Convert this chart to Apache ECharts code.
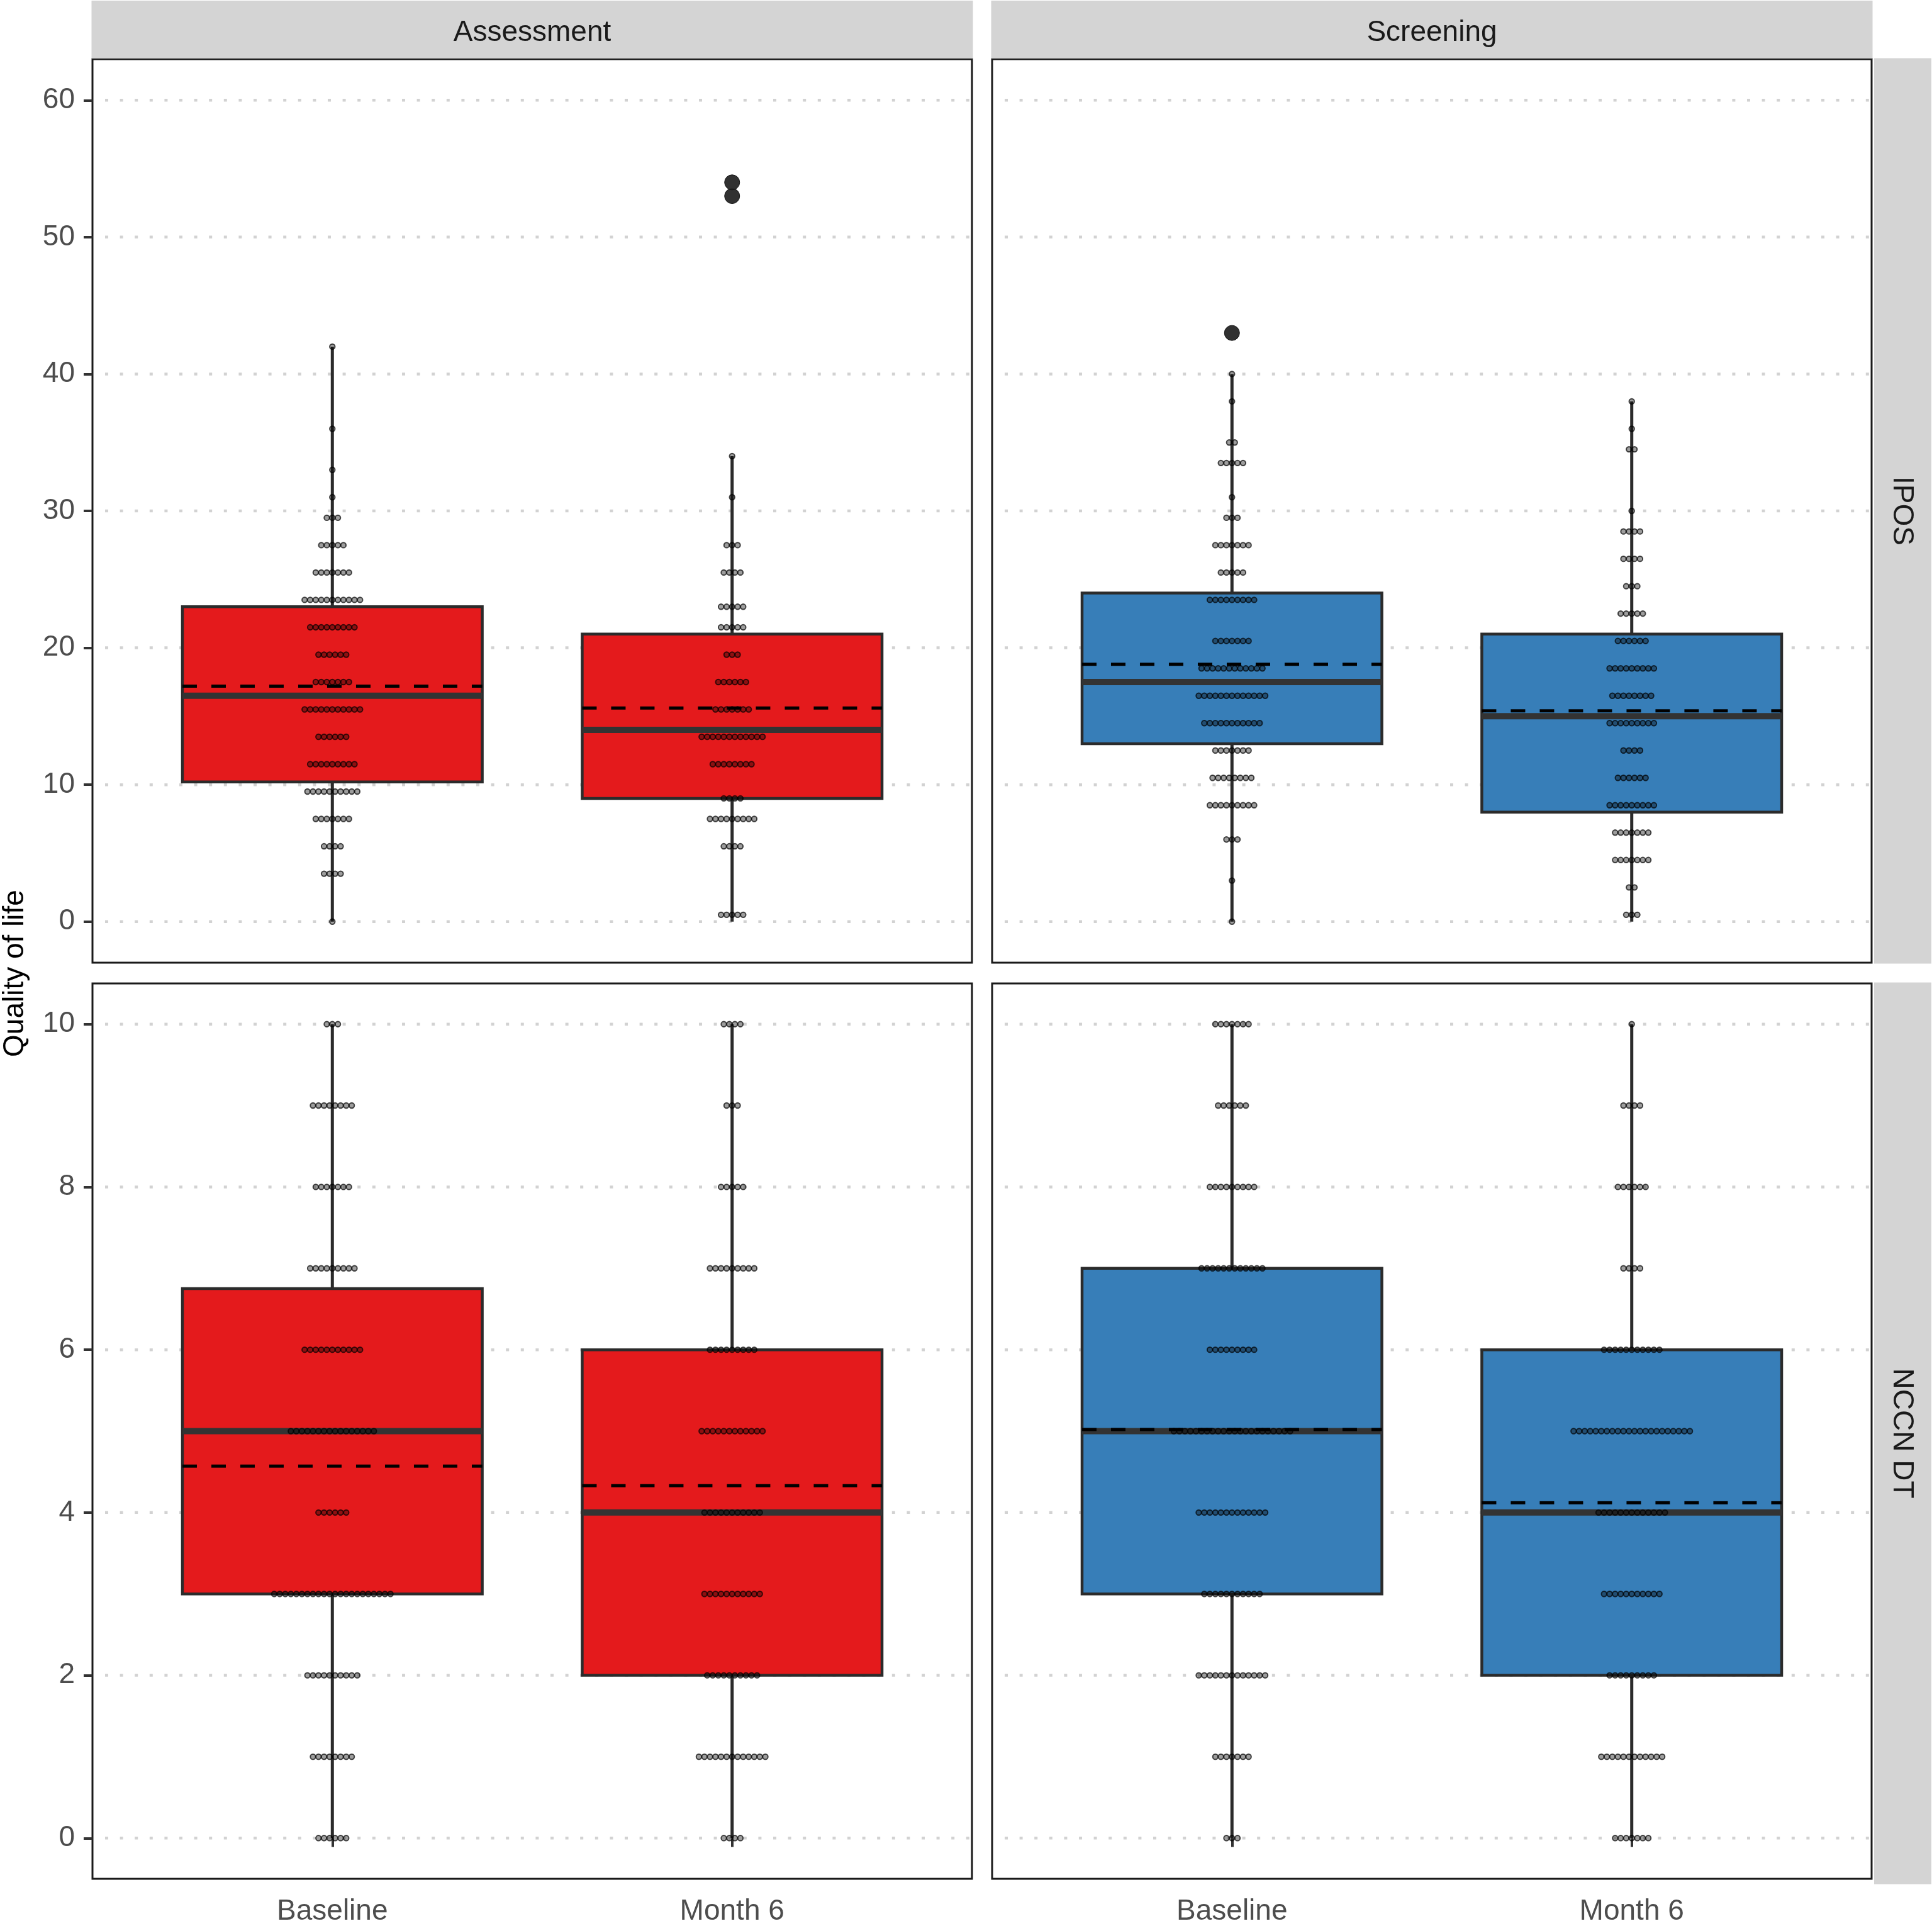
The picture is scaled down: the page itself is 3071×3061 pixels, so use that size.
<!DOCTYPE html>
<html>
<head>
<meta charset="utf-8">
<script src="https://cdn.jsdelivr.net/npm/echarts@6/dist/echarts.min.js"></script>
<style>
html, body { margin: 0; padding: 0; background: #fff; }
#chart { width: 3071px; height: 3061px; }
</style>
</head>
<body>
<div id="chart"></div>
<script>
'use strict';

var facets = ['Assessment', 'Screening'];
var measures = ['IPOS', 'NCCN DT'];
var timepoints = ['Baseline', 'Month 6'];
var yTitle = 'Quality of life';

// tick labels
var iposTicks = [0, 10, 20, 30, 40, 50, 60];
var nccnTicks = [0, 2, 4, 6, 8, 10];

// box stats: [lower whisker, Q1, median, Q3, upper whisker], Baseline then Month 6
var iposAssessBox = [[0, 10.2, 16.5, 23, 42], [0, 9, 14, 21, 34]];
var iposScreenBox = [[0, 13, 17.5, 24, 40], [0, 8, 15, 21, 38]];
var nccnAssessBox = [[0, 3, 5, 6.75, 10], [0, 2, 4, 6, 10]];
var nccnScreenBox = [[0, 3, 5, 7, 10], [0, 2, 4, 6, 10]];

// means (dashed line)
var iposAssessMean = [17.2, 15.6];
var iposScreenMean = [18.8, 15.4];
var nccnAssessMean = [4.57, 4.33];
var nccnScreenMean = [5.02, 4.12];

// outliers
var iposAssessOut = [[], [53, 54]];
var iposScreenOut = [[43], []];
var nccnAssessOut = [[], []];
var nccnScreenOut = [[], []];

// dot stacks (bin centre, number of dots)
var iposAssessBaseBins = [0, 3.5, 5.5, 7.5, 9.5, 11.5, 13.5, 15.5, 17.5, 19.5, 21.5, 23.5, 25.5, 27.5, 29.5, 31, 33, 36, 42];
var iposAssessBaseCounts = [1, 4, 4, 7, 10, 9, 6, 11, 7, 6, 9, 11, 7, 5, 3, 1, 1, 1, 1];
var iposAssessM6Bins = [0.5, 5.5, 7.5, 9, 11.5, 13.5, 15.5, 17.5, 19.5, 21.5, 23, 25.5, 27.5, 31, 34];
var iposAssessM6Counts = [5, 4, 9, 4, 8, 12, 7, 6, 3, 5, 5, 4, 3, 1, 1];
var iposScreenBaseBins = [0, 3, 6, 8.5, 10.5, 12.5, 14.5, 16.5, 18.5, 20.5, 23.5, 25.5, 27.5, 29.5, 31, 33.5, 35, 38, 40];
var iposScreenBaseCounts = [1, 1, 3, 9, 8, 7, 11, 13, 12, 7, 9, 5, 7, 3, 1, 5, 2, 1, 1];
var iposScreenM6Bins = [0.5, 2.5, 4.5, 6.5, 8.5, 10.5, 12.5, 14.5, 16.5, 18.5, 20.5, 22.5, 24.5, 26.5, 28.5, 30, 34.5, 36, 38];
var iposScreenM6Counts = [3, 2, 7, 7, 9, 6, 4, 9, 8, 9, 6, 5, 3, 4, 4, 1, 2, 1, 1];

var nccnBins = [0, 1, 2, 3, 4, 5, 6, 7, 8, 9, 10];
var nccnAssessBaseCounts = [6, 8, 10, 22, 6, 16, 11, 9, 7, 8, 3];
var nccnAssessM6Counts = [4, 13, 10, 11, 11, 12, 9, 9, 5, 3, 4];
var nccnScreenBaseCounts = [3, 7, 13, 11, 13, 22, 9, 12, 9, 6, 7];
var nccnScreenM6Counts = [7, 12, 9, 11, 13, 22, 11, 4, 6, 4, 1];

var facetColors = ['#E41A1C', '#377EB8'];
var font = 'Liberation Sans, Arial, sans-serif';

var panels = [
    { row: 0, col: 0, box: iposAssessBox, mean: iposAssessMean, out: iposAssessOut,
      dots: [[iposAssessBaseBins, iposAssessBaseCounts], [iposAssessM6Bins, iposAssessM6Counts]] },
    { row: 0, col: 1, box: iposScreenBox, mean: iposScreenMean, out: iposScreenOut,
      dots: [[iposScreenBaseBins, iposScreenBaseCounts], [iposScreenM6Bins, iposScreenM6Counts]] },
    { row: 1, col: 0, box: nccnAssessBox, mean: nccnAssessMean, out: nccnAssessOut,
      dots: [[nccnBins, nccnAssessBaseCounts], [nccnBins, nccnAssessM6Counts]] },
    { row: 1, col: 1, box: nccnScreenBox, mean: nccnScreenMean, out: nccnScreenOut,
      dots: [[nccnBins, nccnScreenBaseCounts], [nccnBins, nccnScreenM6Counts]] }
];

var rowTicks = [iposTicks, nccnTicks];
var rowRange = [[-3, 63], [-0.5, 10.5]];
var colLeft = [147, 1577];
var rowTop = [94, 1563];
var rowHeight = [1436, 1430];
var panelWidth = 1398;
var boxWidth = 0.75;
var dotSize = 8.8;

var grids = [], xAxes = [], yAxes = [], series = [];

panels.forEach(function (p, g) {
    var color = facetColors[p.col];
    grids.push({
        left: colLeft[p.col], top: rowTop[p.row], width: panelWidth, height: rowHeight[p.row],
        show: true, backgroundColor: '#fff', borderColor: '#1a1a1a', borderWidth: 3
    });
    xAxes.push({
        type: 'value', gridIndex: g, min: 0.4, max: 2.6,
        axisLine: { show: false }, splitLine: { show: false },
        axisTick: { show: p.row === 1, customValues: [1, 2], length: 14, lineStyle: { color: '#333', width: 4 } },
        axisLabel: {
            show: p.row === 1, customValues: [1, 2], margin: 29,
            fontSize: 46, color: '#4d4d4d', fontFamily: font,
            formatter: function (v) { return timepoints[Math.round(v) - 1]; }
        }
    });
    yAxes.push({
        type: 'value', gridIndex: g, min: rowRange[p.row][0], max: rowRange[p.row][1],
        axisLine: { show: false }, splitLine: { show: false },
        axisTick: { show: p.col === 0, customValues: rowTicks[p.row], length: 14, lineStyle: { color: '#333', width: 4 } },
        axisLabel: {
            show: p.col === 0, customValues: rowTicks[p.row], margin: 28,
            fontSize: 46, color: '#4d4d4d', fontFamily: font
        }
    });

    // dotted grid lines
    series.push({
        type: 'custom', xAxisIndex: g, yAxisIndex: g, z: 1, silent: true,
        data: rowTicks[p.row].map(function (v) { return [0.4, v]; }),
        renderItem: function (params, api) {
            var a = api.coord([0.4, api.value(1)]);
            var b = api.coord([2.6, api.value(1)]);
            return { type: 'line', shape: { x1: a[0] + 20, y1: a[1], x2: b[0], y2: b[1] },
                style: { stroke: '#d2d2d2', lineWidth: 4.5, lineDash: [5, 18.6] } };
        }
    });

    // boxes
    series.push({
        type: 'custom', xAxisIndex: g, yAxisIndex: g, z: 2, silent: true,
        data: p.box.map(function (b, i) { return [i + 1].concat(b); }),
        renderItem: function (params, api) {
            var x = api.value(0);
            var lo = api.coord([x, api.value(1)]);
            var q1 = api.coord([x, api.value(2)]);
            var md = api.coord([x, api.value(3)]);
            var q3 = api.coord([x, api.value(4)]);
            var hi = api.coord([x, api.value(5)]);
            var half = api.size([boxWidth, 0])[0] / 2;
            return { type: 'group', children: [
                { type: 'line', shape: { x1: lo[0], y1: lo[1], x2: q1[0], y2: q1[1] }, style: { stroke: '#2b2b2b', lineWidth: 5 } },
                { type: 'line', shape: { x1: q3[0], y1: q3[1], x2: hi[0], y2: hi[1] }, style: { stroke: '#2b2b2b', lineWidth: 5 } },
                { type: 'rect', shape: { x: md[0] - half, y: q3[1], width: half * 2, height: q1[1] - q3[1] },
                  style: { fill: color, stroke: '#2b2b2b', lineWidth: 4.5 } },
                { type: 'line', shape: { x1: md[0] - half, y1: md[1], x2: md[0] + half, y2: md[1] },
                  style: { stroke: '#333', lineWidth: 10 } }
            ] };
        }
    });

    // dot stacks
    var dotData = [];
    p.dots.forEach(function (d, i) {
        d[0].forEach(function (v, k) { dotData.push([i + 1, v, d[1][k]]); });
    });
    series.push({
        type: 'custom', xAxisIndex: g, yAxisIndex: g, z: 3, silent: true,
        data: dotData,
        renderItem: function (params, api) {
            var c = api.coord([api.value(0), api.value(1)]);
            var n = api.value(2);
            var kids = [];
            for (var i = 0; i < n; i++) {
                kids.push({ type: 'circle',
                    shape: { cx: c[0] + (i - (n - 1) / 2) * dotSize, cy: c[1], r: dotSize / 2 - 0.2 },
                    style: { fill: 'rgba(0,0,0,0.38)', stroke: 'rgba(0,0,0,0.7)', lineWidth: 2 } });
            }
            return { type: 'group', children: kids };
        }
    });

    // mean lines
    series.push({
        type: 'custom', xAxisIndex: g, yAxisIndex: g, z: 4, silent: true,
        data: p.mean.map(function (m, i) { return [i + 1, m]; }),
        renderItem: function (params, api) {
            var c = api.coord([api.value(0), api.value(1)]);
            var half = api.size([boxWidth, 0])[0] / 2;
            return { type: 'line', shape: { x1: c[0] - half, y1: c[1], x2: c[0] + half, y2: c[1] },
                style: { stroke: '#000', lineWidth: 5, lineDash: [23, 23] } };
        }
    });

    // outliers
    var outData = [];
    p.out.forEach(function (arr, i) {
        arr.forEach(function (v) { outData.push([i + 1, v]); });
    });
    series.push({
        type: 'scatter', xAxisIndex: g, yAxisIndex: g, z: 5, silent: true,
        symbolSize: 24, data: outData,
        itemStyle: { color: '#262626', opacity: 0.95, borderColor: '#111', borderWidth: 1 }
    });
});

var graphics = [];
facets.forEach(function (f, i) {
    graphics.push({ type: 'rect', shape: { x: colLeft[i] - 1.5, y: 1, width: panelWidth + 3, height: 92 },
        style: { fill: '#d4d4d4' } });
    graphics.push({ type: 'text', x: colLeft[i] + panelWidth / 2, y: 52,
        style: { text: f, fontSize: 46, fontFamily: font, fill: '#1a1a1a', align: 'center', verticalAlign: 'middle' } });
});
measures.forEach(function (m, i) {
    graphics.push({ type: 'rect', shape: { x: 2979, y: rowTop[i] - 1.5, width: 91, height: rowHeight[i] + 3 },
        style: { fill: '#d4d4d4' } });
    graphics.push({ type: 'text', x: 3023, y: rowTop[i] + rowHeight[i] / 2, rotation: -Math.PI / 2,
        style: { text: m, fontSize: 46, fontFamily: font, fill: '#1a1a1a', align: 'center', verticalAlign: 'middle' } });
});
graphics.push({ type: 'text', x: 24, y: 1547, rotation: Math.PI / 2,
    style: { text: yTitle, fontSize: 46, fontFamily: font, fill: '#000', align: 'center', verticalAlign: 'middle' } });

var myChart = echarts.init(document.getElementById('chart'));
myChart.setOption({
    backgroundColor: '#fff',
    animation: false,
    grid: grids,
    xAxis: xAxes,
    yAxis: yAxes,
    series: series,
    graphic: graphics
});
</script>
</body>
</html>
